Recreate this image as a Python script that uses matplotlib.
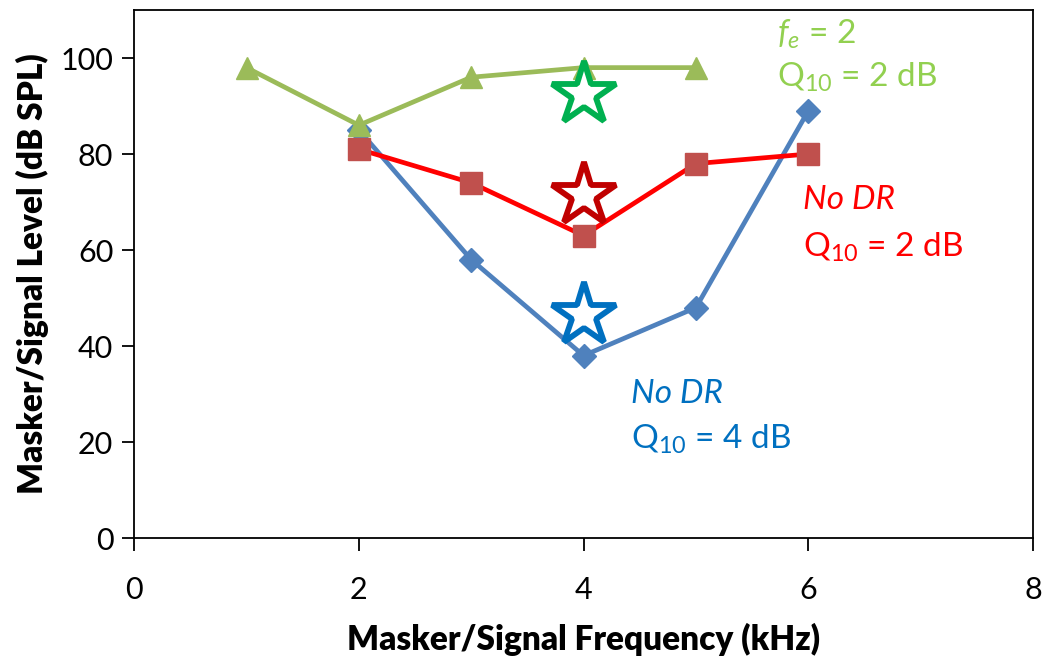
import matplotlib
matplotlib.use("Agg")
import matplotlib.pyplot as plt

plt.rcParams['font.family'] = ['Lato', 'DejaVu Sans']
plt.rcParams['mathtext.fontset'] = 'custom'
plt.rcParams['mathtext.rm'] = 'Lato'
plt.rcParams['mathtext.it'] = 'Lato:italic'

# data
freq_blue = [2, 3, 4, 5, 6]
level_blue = [85, 58, 38, 48, 89]
freq_red = [2, 3, 4, 5, 6]
level_red = [81, 74, 63, 78, 80]
freq_green = [1, 2, 3, 4, 5]
level_green = [98, 86, 96, 98, 98]
star_x = [4, 4, 4]
star_y = [92.5, 71.5, 46.5]
star_colors = ['#00B050', '#C00000', '#0070C0']

fig = plt.figure(figsize=(10.48, 6.59), dpi=100)
ax = fig.add_axes([0.128, 0.1836, 0.8577, 0.8012])

ax.plot(freq_blue, level_blue, color='#4F81BD', lw=3.4, marker='D', ms=12,
        mfc='#4F81BD', mec='#4F81BD', zorder=3)
ax.plot(freq_red, level_red, color='#FF0000', lw=3.4, marker='s', ms=16,
        mfc='#C0504D', mec='#C0504D', zorder=4)
ax.plot(freq_green, level_green, color='#9BBB59', lw=3.4, marker='^', ms=16,
        mfc='#9BBB59', mec='#9BBB59', zorder=5)

for x, y, c in zip(star_x, star_y, star_colors):
    ax.plot(x, y, marker='*', ms=48, mfc='white', mec=c, mew=4.2, zorder=6,
            linestyle='none')

fs = 24
ax.text(5.72, 105, r'$f_e$ = 2', color='#92D050', fontsize=fs, va='center')
ax.text(5.72, 96, r'Q$_{10}$ = 2 dB', color='#92D050', fontsize=fs, va='center')
ax.text(5.95, 70.5, 'No DR', color='#FF0000', fontsize=fs, style='italic', va='center')
ax.text(5.95, 60.5, r'Q$_{10}$ = 2 dB', color='#FF0000', fontsize=fs, va='center')
ax.text(4.42, 30, 'No DR', color='#0070C0', fontsize=fs, style='italic', va='center')
ax.text(4.42, 20.5, r'Q$_{10}$ = 4 dB', color='#0070C0', fontsize=fs, va='center')

ax.set_xlim(0, 8)
ax.set_ylim(0, 110)
ax.set_xticks([0, 2, 4, 6, 8])
ax.set_yticks([0, 20, 40, 60, 80, 100])
ax.tick_params(labelsize=22, length=9, width=1.3, direction='out', pad=6)
ax.tick_params(axis='x', pad=18)
for s in ax.spines.values():
    s.set_linewidth(1.3)

ax.set_xlabel('Masker/Signal Frequency (kHz)', fontsize=24, fontweight='heavy', labelpad=14)
ax.set_ylabel('Masker/Signal Level (dB SPL)', fontsize=24, fontweight='heavy', labelpad=8)

fig.savefig('out.png', dpi=100)
